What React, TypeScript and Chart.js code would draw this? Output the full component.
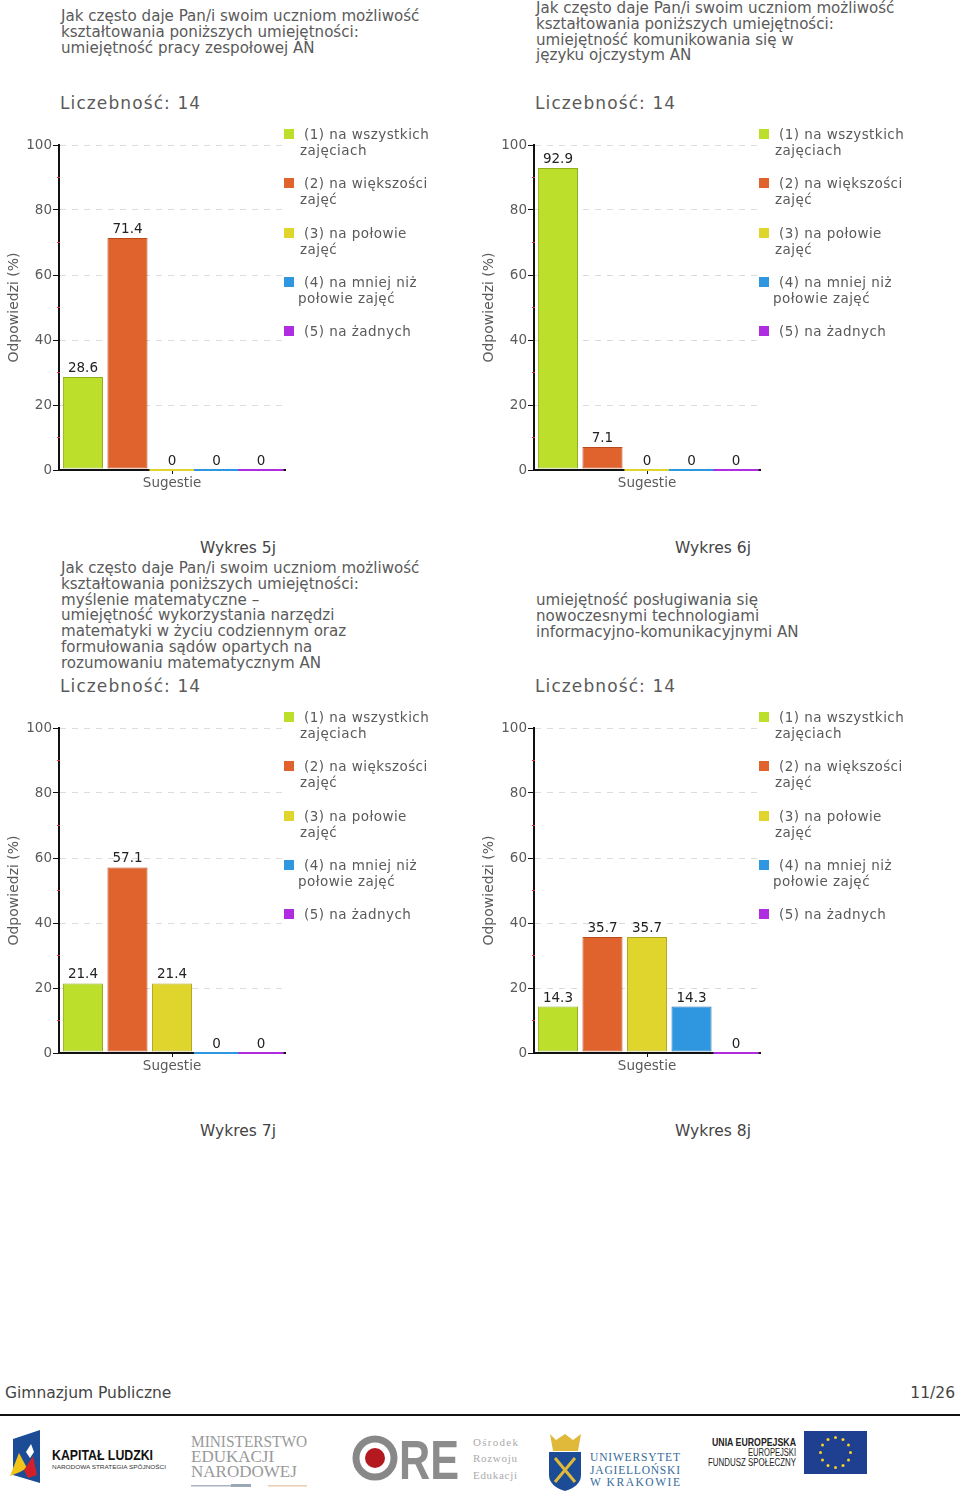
import React, { useEffect, useRef } from "react";
import { Chart, registerables } from "chart.js";

Chart.register(...registerables);

const CATEGORY = [""];
const SERIES_NAMES = [
  "(1) na wszystkich zajęciach",
  "(2) na większości zajęć",
  "(3) na połowie zajęć",
  "(4) na mniej niż połowie zajęć",
  "(5) na żadnych",
];
const LEGEND_LINES = [
  ["(1) na wszystkich", "zajęciach"],
  ["(2) na większości", "zajęć"],
  ["(3) na połowie", "zajęć"],
  ["(4) na mniej niż", "połowie zajęć"],
  ["(5) na żadnych"],
];
const FILL = ["#BCDF2C", "#E0632E", "#E0D52C", "#2F96E0", "#AF2CE0"];
const EDGE = ["#8FAF1E", "#B9481A", "#B0A61C", "#1F75B5", "#8A1FB5"];

const VALUES_5J = [28.6, 71.4, 0, 0, 0];
const VALUES_6J = [92.9, 7.1, 0, 0, 0];
const VALUES_7J = [21.4, 57.1, 21.4, 0, 0];
const VALUES_8J = [14.3, 35.7, 35.7, 14.3, 0];

const TITLE_5J = [
  "Jak często daje Pan/i swoim uczniom możliwość",
  "kształtowania poniższych umiejętności:",
  "umiejętność pracy zespołowej AN",
];
const TITLE_6J = [
  "Jak często daje Pan/i swoim uczniom możliwość",
  "kształtowania poniższych umiejętności:",
  "umiejętność komunikowania się w",
  "języku ojczystym AN",
];
const TITLE_7J = [
  "Jak często daje Pan/i swoim uczniom możliwość",
  "kształtowania poniższych umiejętności:",
  "myślenie matematyczne –",
  "umiejętność wykorzystania narzędzi",
  "matematyki w życiu codziennym oraz",
  "formułowania sądów opartych na",
  "rozumowaniu matematycznym AN",
];
const TITLE_8J = [
  "umiejętność posługiwania się",
  "nowoczesnymi technologiami",
  "informacyjno-komunikacyjnymi AN",
];

const FONT = '"DejaVu Sans", sans-serif';
const GREY = "#5a5a5a";

const overlay = {
  id: "overlay",
  afterDatasetsDraw(chart: any) {
    const { ctx, scales } = chart;
    const y = scales.y;
    ctx.save();
    // minor red ticks on the value axis
    for (let v = 10; v < 100; v += 20) {
      const py = y.getPixelForValue(v);
      ctx.strokeStyle = "#d33";
      ctx.lineWidth = 1;
      ctx.beginPath();
      ctx.moveTo(y.right - 2, py);
      ctx.lineTo(y.right + 1, py);
      ctx.stroke();
    }
    chart.data.datasets.forEach((ds: any, i: number) => {
      const bar = chart.getDatasetMeta(i).data[0];
      const value = ds.data[0];
      const slot = (scales.x.right - scales.x.left) / chart.data.datasets.length / 2;
      if (value === 0) {
        ctx.strokeStyle = ds.backgroundColor;
        ctx.lineWidth = 2;
        ctx.beginPath();
        ctx.moveTo(bar.x - slot, y.getPixelForValue(0));
        ctx.lineTo(bar.x + slot, y.getPixelForValue(0));
        ctx.stroke();
      }
      ctx.fillStyle = "#222";
      ctx.font = `13.5px ${FONT}`;
      ctx.textAlign = "center";
      ctx.textBaseline = "alphabetic";
      ctx.fillText(String(value), bar.x, y.getPixelForValue(value) - 5);
    });
    ctx.restore();
  },
};

function BarChart({ values }: { values: number[] }) {
  const ref = useRef<HTMLCanvasElement>(null);
  useEffect(() => {
    const chart = new Chart(ref.current!, {
      type: "bar",
      data: {
        labels: CATEGORY,
        datasets: SERIES_NAMES.map((name, i) => ({
          label: name,
          data: [values[i]],
          base: values[i] === 0 ? 0 : 0.5,
          backgroundColor: FILL[i],
          borderColor: EDGE[i],
          borderWidth: values[i] === 0 ? 0 : 1,
          borderSkipped: false,
          categoryPercentage: 0.985,
          barPercentage: 0.9,
        })),
      },
      options: {
        responsive: false,
        animation: false,
        devicePixelRatio: 1,
        layout: { padding: { top: 19, right: 5, bottom: 0, left: 0 } },
        plugins: { legend: { display: false }, tooltip: { enabled: false } },
        scales: {
          x: {
            offset: true,
            afterFit: (s: any) => { s.height = 31; },
            grid: { offset: false, drawOnChartArea: false, tickLength: 4, tickColor: "#111" },
            border: { color: "#111", width: 2 },
            ticks: { display: false },
            title: { display: true, text: "Sugestie", color: GREY, font: { family: FONT, size: 13.5 }, padding: { top: 0, bottom: 9 } },
          },
          y: {
            min: 0,
            max: 100,
            afterFit: (s: any) => { s.width = 59; },
            border: { color: "#111", width: 2, dash: [6, 6] },
            grid: {
              color: (c: any) => (c.tick.value % 20 === 0 && c.tick.value > 0 ? "#dddddd" : "transparent"),
              tickColor: (c: any) => (c.tick.value % 20 === 0 ? "#111" : "transparent"),
              tickBorderDash: [],
              tickLength: 6,
            },
            ticks: {
              stepSize: 10,
              padding: 1,
              autoSkip: false,
              maxRotation: 0,
              color: GREY,
              font: { family: FONT, size: 13.5 },
              callback: (v: any) => (Number(v) % 20 === 0 ? String(v) : ""),
            },
            title: { display: true, text: "Odpowiedzi (%)", color: GREY, font: { family: FONT, size: 14 }, padding: { top: 6, bottom: 0 } },
          } as any,
        },
      },
      plugins: [overlay],
    });
    return () => chart.destroy();
  }, [values]);
  return <canvas ref={ref} width={290} height={375} style={{ position: "absolute", left: 0, top: 126, width: 290, height: 375 }} />;
}

const LEGEND_TOPS = [134, 183, 233, 282, 331];
const LEGEND_SECOND_X = [300, 300, 300, 298, 300];

function Panel({ left, top, values, title, titleTop, caption }: any) {
  return (
    <div style={{ position: "absolute", left, top, width: 470, height: 560, fontFamily: FONT, color: GREY }}>
      {title.map((t: string, i: number) => (
        <div key={i} style={{ position: "absolute", left: 61, top: titleTop + i * 15.8 - 9, fontSize: 15.1, lineHeight: "18px", whiteSpace: "nowrap" }}>{t}</div>
      ))}
      <div style={{ position: "absolute", left: 60, top: 92, fontSize: 17, lineHeight: "22px", letterSpacing: 1.1, whiteSpace: "nowrap" }}>Liczebność: 14</div>
      <BarChart values={values} />
      {LEGEND_LINES.map((lines, i) => (
        <React.Fragment key={i}>
          <div style={{ position: "absolute", left: 284, top: LEGEND_TOPS[i] - 5, width: 10, height: 10, background: FILL[i] }} />
          {lines.map((l, j) => (
            <div key={j} style={{ position: "absolute", left: j === 0 ? 304 : LEGEND_SECOND_X[i], top: LEGEND_TOPS[i] - 9 + j * 16, fontSize: 13.5, letterSpacing: 0.45, lineHeight: "18px", whiteSpace: "nowrap" }}>{l}</div>
          ))}
        </React.Fragment>
      ))}
      <div style={{ position: "absolute", left: 0, width: 476, top: 538, textAlign: "center", fontSize: 15.5, lineHeight: "20px", color: "#444" }}>{caption}</div>
    </div>
  );
}

function Logos() {
  const stars = Array.from({ length: 12 }, (_, i) => i);
  return (
    <svg width={960} height={90} viewBox="0 1413 960 90" style={{ position: "absolute", left: 0, top: 1413 }}>
      <rect x={0} y={1414} width={960} height={2} fill="#111" />
      <polygon points="13,1439 40,1430 40,1483 13,1475" fill="#1c4c96" />
      <polygon points="26,1452 31,1444 34,1452 30,1458" fill="#fff" />
      <polygon points="10,1476 19,1453 27,1468 20,1472" fill="#f0c419" />
      <polygon points="24,1470 33,1456 37,1475 28,1478" fill="#d0202a" />
      <text x={52} y={1460} fontFamily="'Liberation Sans Narrow','Liberation Sans',sans-serif" fontWeight="bold" fontSize={14} textLength={101} lengthAdjust="spacingAndGlyphs" fill="#111">KAPITAŁ LUDZKI</text>
      <text x={52} y={1469} fontFamily="'Liberation Sans',sans-serif" fontSize={6} textLength={114} lengthAdjust="spacingAndGlyphs" fill="#333">NARODOWA STRATEGIA SPÓJNOŚCI</text>

      <g fontFamily="'Liberation Serif',serif" fontSize={17} fill="#999">
        <text x={191} y={1447} textLength={116} lengthAdjust="spacingAndGlyphs">MINISTERSTWO</text>
        <text x={191} y={1462}>EDUKACJI</text>
        <text x={191} y={1477}>NARODOWEJ</text>
      </g>
      <rect x={191} y={1485} width={40} height={1.5} fill="#a9b4bf" />
      <rect x={231} y={1484} width={20} height={3} fill="#9aa8b5" />
      <rect x={268} y={1485} width={39} height={1.5} fill="#e6cdb4" />

      <circle cx={375} cy={1458} r={19} fill="none" stroke="#888" strokeWidth={7} />
      <circle cx={375} cy={1458} r={10} fill="#b3191f" />
      <text x={399} y={1479} fontFamily="'Liberation Sans',sans-serif" fontWeight="bold" fontSize={56} fill="#8c8c8c" textLength={60} lengthAdjust="spacingAndGlyphs">RE</text>
      <g fontFamily="'Liberation Serif',serif" fontSize={11} fill="#aaa">
        <text x={473} y={1446} textLength={45}>Ośrodek</text>
        <text x={473} y={1462} textLength={44}>Rozwoju</text>
        <text x={473} y={1479} textLength={44}>Edukacji</text>
      </g>

      <polygon points="550,1434 556,1440 565,1434 573,1440 581,1434 578,1451 553,1451" fill="#e0b83a" />
      <path d="M549,1452 H581 V1475 Q581,1486 565,1491 Q549,1486 549,1475 Z" fill="#1c4c96" />
      <path d="M555,1458 L575,1482 M575,1458 L555,1482" stroke="#e0b83a" strokeWidth={3} />
      <g fontFamily="'Liberation Serif',serif" fontSize={11.5} fill="#356a9a">
        <text x={590} y={1461} textLength={90}>UNIWERSYTET</text>
        <text x={590} y={1474} textLength={90}>JAGIELLOŃSKI</text>
        <text x={590} y={1486} textLength={90}>W KRAKOWIE</text>
      </g>

      <g fontFamily="'Liberation Sans Narrow','Liberation Sans',sans-serif" textAnchor="end" fill="#222">
        <text x={796} y={1446} fontWeight="bold" fontSize={10} textLength={84} lengthAdjust="spacingAndGlyphs">UNIA EUROPEJSKA</text>
        <text x={796} y={1456} fontSize={10} textLength={48} lengthAdjust="spacingAndGlyphs">EUROPEJSKI</text>
        <text x={796} y={1466} fontSize={10} textLength={88} lengthAdjust="spacingAndGlyphs">FUNDUSZ SPOŁECZNY</text>
      </g>
      <rect x={804} y={1431} width={63} height={43} fill="#1f3f91" />
      {stars.map((i) => (
        <circle key={i} cx={835.5 + 15 * Math.sin((i * Math.PI) / 6)} cy={1452.5 - 15 * Math.cos((i * Math.PI) / 6)} r={1.5} fill="#f5d327" />
      ))}
    </svg>
  );
}

export default function App() {
  useEffect(() => { document.body.style.margin = "0"; }, []);
  return (
    <div style={{ position: "absolute", left: 0, top: 0, width: 960, height: 1503, overflow: "hidden", background: "#fff", fontFamily: FONT }}>
      <Panel left={0} top={0} values={VALUES_5J} title={TITLE_5J} titleTop={16} caption="Wykres 5j" />
      <Panel left={475} top={0} values={VALUES_6J} title={TITLE_6J} titleTop={8} caption="Wykres 6j" />
      <Panel left={0} top={583} values={VALUES_7J} title={TITLE_7J} titleTop={-15} caption="Wykres 7j" />
      <Panel left={475} top={583} values={VALUES_8J} title={TITLE_8J} titleTop={17} caption="Wykres 8j" />
      <div style={{ position: "absolute", left: 5, top: 1383, fontSize: 15.5, lineHeight: "20px", color: "#444" }}>Gimnazjum Publiczne</div>
      <div style={{ position: "absolute", right: 5, top: 1383, fontSize: 15.5, lineHeight: "20px", color: "#444" }}>11/26</div>
      <Logos />
    </div>
  );
}
